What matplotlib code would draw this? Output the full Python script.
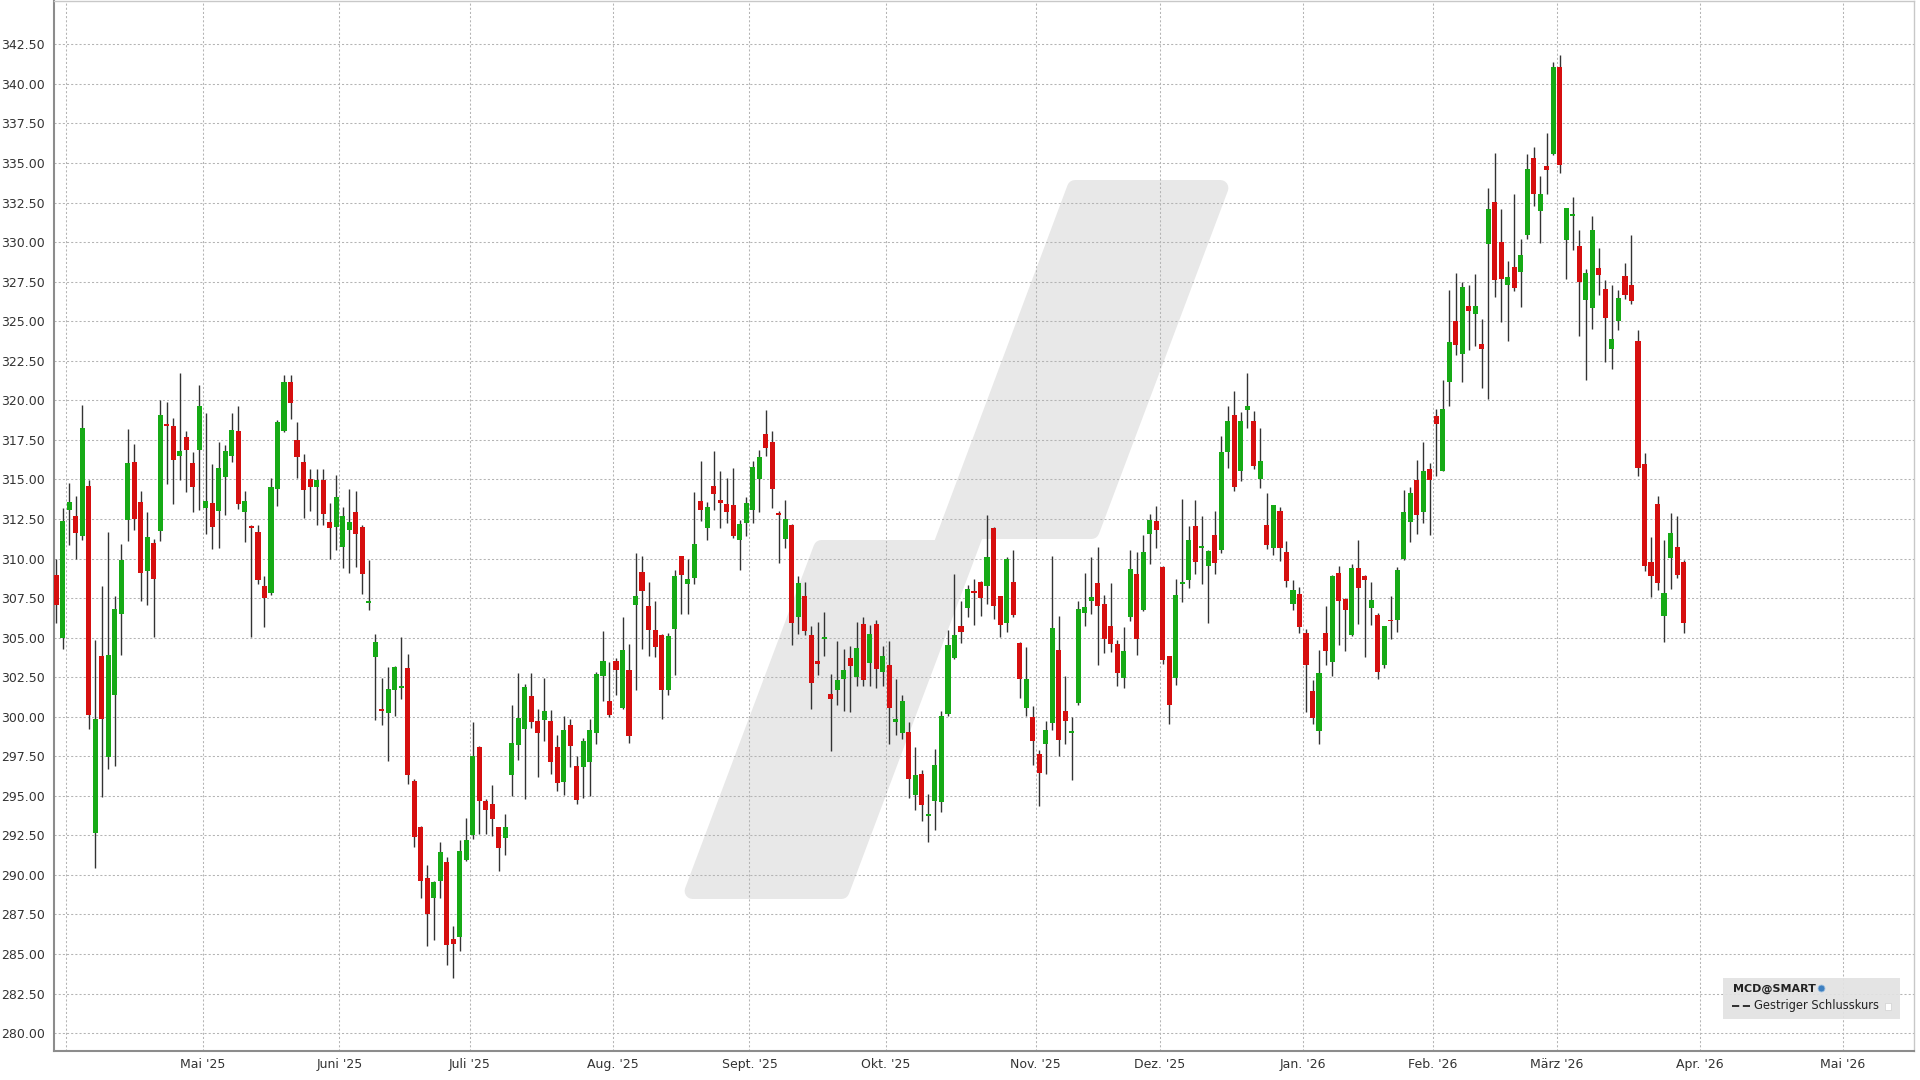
import numpy as np
import pandas as pd
import matplotlib
matplotlib.use("Agg")
import matplotlib.pyplot as plt
from matplotlib.patches import Polygon, Rectangle
from matplotlib.lines import Line2D

OUTPUT_PATH = "out.png"

# --- daily candles MCD, 28.03.2025 - 27.03.2026 ---
FIRST_DAY = "2025-03-28"
HOLIDAYS = ["2025-04-18", "2025-05-26", "2025-06-19", "2025-07-04", "2025-09-01",
            "2025-11-27", "2025-12-25", "2026-01-01", "2026-01-19", "2026-02-16"]

OPEN = [
    308.98, 305.00, 313.04, 312.71, 311.44, 314.56, 292.66, 303.82, 297.44, 301.35,
    306.49, 312.45, 316.12, 313.59, 309.23, 311.00, 311.76, 318.50, 318.39, 316.46,
    317.70, 316.06, 316.83, 313.19, 313.50, 312.98, 315.13, 316.50, 318.04, 312.92,
    312.03, 311.67, 308.24, 307.82, 314.39, 318.08, 321.17, 317.49, 316.12, 315.00,
    314.50, 314.95, 312.31, 312.02, 310.73, 311.82, 312.92, 312.02, 307.20, 303.78,
    300.47, 300.24, 301.71, 301.84, 303.11, 295.96, 293.02, 289.80, 288.51, 289.60,
    290.81, 285.96, 286.10, 290.93, 292.51, 298.10, 294.65, 294.49, 293.02, 292.35,
    296.34, 298.21, 299.23, 301.30, 299.72, 299.77, 299.72, 298.10, 295.86, 299.45,
    296.90, 296.81, 297.11, 298.96, 302.59, 301.01, 303.50, 300.54, 302.97, 307.04,
    309.12, 307.01, 305.50, 305.16, 301.70, 305.54, 310.14, 308.41, 308.76, 313.61,
    311.93, 314.60, 313.72, 313.44, 313.36, 311.15, 312.24, 313.09, 315.05, 317.87,
    317.37, 312.83, 311.23, 312.10, 306.28, 307.61, 305.14, 303.50, 304.89, 301.45,
    301.66, 302.38, 303.71, 302.50, 305.86, 303.39, 305.86, 302.80, 303.24, 299.64,
    298.96, 299.03, 295.06, 296.37, 293.70, 294.70, 294.64, 300.16, 303.71, 305.71,
    306.85, 307.96, 308.49, 308.28, 311.93, 307.61, 305.92, 308.51, 304.65, 300.54,
    299.97, 297.66, 298.27, 299.60, 304.23, 300.33, 299.00, 300.87, 306.56, 307.34,
    308.45, 307.15, 305.71, 304.62, 302.45, 306.28, 309.02, 306.77, 311.57, 312.35,
    309.46, 303.82, 302.45, 308.40, 308.66, 312.03, 310.67, 309.50, 311.46, 310.52,
    316.71, 319.09, 315.55, 319.36, 318.67, 315.02, 312.10, 310.66, 312.98, 310.41,
    307.13, 307.76, 305.29, 301.65, 299.12, 305.29, 303.45, 309.08, 307.44, 305.18,
    309.40, 308.91, 306.87, 306.45, 303.28, 306.13, 306.13, 309.99, 312.31, 314.98,
    312.92, 315.66, 318.99, 315.55, 321.15, 325.02, 322.94, 325.94, 325.47, 323.58,
    329.88, 332.52, 330.00, 327.27, 328.43, 328.11, 330.47, 335.33, 331.99, 334.84,
    335.58, 341.09, 330.16, 331.65, 329.78, 326.32, 325.81, 328.36, 327.03, 323.26,
    324.99, 327.83, 327.26, 323.72, 315.97, 309.77, 313.44, 306.39, 310.02, 310.70,
    309.75,
]
HIGH = [
    309.99, 313.20, 314.75, 313.93, 319.68, 314.98, 304.87, 308.24, 311.67, 307.61,
    310.94, 318.18, 317.21, 314.29, 312.96, 311.25, 320.00, 319.87, 318.86, 321.72,
    318.08, 316.73, 320.98, 319.19, 315.97, 317.34, 317.17, 319.19, 319.61, 314.24,
    312.14, 312.14, 308.92, 315.09, 318.77, 321.62, 321.62, 318.64, 316.60, 315.66,
    315.63, 315.63, 313.53, 315.29, 313.26, 314.41, 314.27, 312.10, 309.88, 305.21,
    302.43, 303.15, 303.20, 305.07, 303.97, 296.07, 293.07, 290.61, 289.60, 292.08,
    291.11, 286.78, 292.19, 293.59, 299.68, 298.15, 294.83, 295.69, 293.05, 293.86,
    300.76, 302.77, 302.05, 302.77, 300.47, 302.43, 300.40, 298.82, 300.06, 299.85,
    297.49, 298.65, 299.85, 302.82, 305.43, 303.43, 303.71, 306.30, 304.59, 310.35,
    310.18, 308.51, 307.29, 305.20, 305.29, 309.25, 310.18, 309.97, 314.20, 316.14,
    313.57, 316.82, 315.51, 315.09, 315.72, 312.45, 313.87, 316.14, 316.88, 319.41,
    318.04, 313.02, 313.72, 312.15, 308.91, 308.51, 305.71, 305.98, 306.59, 302.69,
    304.80, 304.27, 304.44, 305.96, 306.28, 305.77, 306.13, 304.44, 304.76, 302.38,
    301.39, 299.66, 298.06, 296.64, 295.10, 297.95, 300.33, 305.50, 309.04, 307.29,
    308.30, 308.70, 308.55, 312.73, 311.98, 307.65, 310.09, 310.56, 304.70, 304.38,
    300.65, 297.91, 299.70, 310.14, 306.34, 302.55, 300.00, 307.29, 309.08, 310.10,
    310.73, 307.71, 308.45, 304.83, 305.65, 310.52, 310.39, 311.46, 312.83, 313.30,
    309.50, 303.85, 308.70, 313.78, 312.03, 313.72, 312.66, 310.55, 312.98, 317.76,
    319.61, 320.56, 319.24, 321.72, 319.34, 318.25, 314.14, 313.40, 313.23, 311.13,
    308.66, 308.18, 305.55, 302.34, 304.24, 306.98, 308.98, 309.54, 307.50, 309.67,
    311.19, 308.95, 308.51, 306.55, 305.75, 307.61, 309.46, 314.35, 314.52, 316.25,
    317.37, 316.04, 319.45, 321.30, 326.95, 328.05, 327.48, 327.27, 327.99, 325.16,
    333.43, 335.64, 332.10, 328.83, 333.01, 330.22, 335.58, 336.00, 334.17, 336.91,
    341.38, 341.80, 332.16, 332.86, 330.79, 328.32, 331.67, 329.62, 327.62, 327.26,
    326.95, 328.68, 330.43, 324.46, 316.70, 311.39, 313.98, 311.18, 312.86, 312.66,
    309.92,
]
LOW = [
    305.92, 304.30, 310.87, 310.00, 311.19, 299.23, 290.44, 294.93, 296.70, 296.87,
    303.88, 311.08, 311.78, 307.29, 307.08, 305.02, 311.13, 314.71, 313.46, 314.98,
    314.20, 312.94, 313.04, 311.57, 310.60, 310.66, 312.77, 316.08, 313.13, 311.06,
    305.02, 308.39, 305.65, 307.70, 313.34, 317.99, 318.81, 315.10, 312.56, 312.98,
    312.09, 312.09, 309.99, 310.51, 309.38, 309.09, 309.45, 307.73, 306.74, 299.79,
    299.45, 297.20, 300.02, 301.10, 295.73, 291.78, 288.51, 285.51, 285.87, 288.56,
    284.30, 283.48, 285.20, 290.90, 292.30, 292.57, 292.57, 292.46, 290.25, 291.29,
    294.99, 297.27, 294.78, 299.27, 296.18, 298.44, 296.41, 295.28, 295.06, 296.85,
    294.50, 294.85, 294.96, 298.27, 301.01, 299.97, 301.35, 300.50, 298.33, 301.70,
    304.27, 303.81, 303.75, 299.85, 301.39, 302.65, 306.49, 306.49, 308.41, 312.35,
    311.15, 313.09, 311.93, 312.25, 311.30, 309.29, 311.40, 312.24, 312.94, 316.46,
    313.19, 309.71, 310.66, 304.55, 305.25, 305.18, 300.48, 302.65, 303.85, 297.85,
    300.75, 300.38, 300.27, 301.96, 301.91, 301.96, 301.81, 301.96, 298.27, 298.86,
    298.60, 294.85, 294.11, 293.38, 292.05, 292.85, 293.95, 300.02, 303.64, 304.65,
    306.28, 305.81, 306.34, 307.14, 306.17, 305.01, 305.35, 306.28, 301.18, 300.06,
    296.96, 294.37, 296.37, 299.17, 297.49, 298.27, 296.03, 300.76, 305.71, 306.51,
    303.29, 304.03, 304.07, 301.97, 301.82, 306.07, 303.92, 306.70, 309.65, 310.66,
    303.33, 299.54, 302.03, 307.25, 308.11, 309.02, 308.39, 305.92, 309.02, 310.35,
    315.72, 314.24, 314.92, 318.25, 315.66, 314.45, 310.60, 310.24, 309.82, 308.20,
    306.72, 305.29, 300.28, 299.56, 298.28, 303.29, 302.55, 304.55, 304.13, 305.12,
    305.86, 303.75, 305.77, 302.38, 303.07, 304.91, 305.33, 309.92, 311.02, 311.55,
    312.24, 311.50, 315.19, 315.50, 319.65, 322.88, 321.15, 323.15, 323.45, 320.77,
    320.10, 326.51, 324.93, 323.77, 326.89, 325.90, 330.20, 332.27, 329.95, 333.07,
    335.50, 334.38, 327.67, 329.53, 324.04, 321.30, 324.50, 326.63, 322.39, 321.97,
    324.46, 326.40, 326.08, 315.19, 309.24, 307.55, 307.98, 304.75, 308.06, 308.76,
    305.28,
]
CLOSE = [
    307.08, 312.35, 313.57, 311.61, 318.25, 300.13, 299.88, 299.86, 303.92, 306.81,
    309.91, 316.06, 312.52, 309.08, 311.34, 308.72, 319.07, 318.40, 316.22, 316.77,
    316.83, 314.50, 319.61, 313.65, 311.97, 315.72, 316.81, 318.10, 313.46, 313.65,
    311.91, 308.66, 307.50, 314.50, 318.60, 321.17, 319.80, 316.43, 314.31, 314.50,
    314.95, 312.83, 311.91, 313.89, 312.70, 312.31, 311.52, 309.00, 307.30, 304.71,
    300.38, 301.75, 303.15, 301.93, 296.34, 292.42, 289.64, 287.50, 289.53, 291.45,
    285.58, 285.65, 291.49, 292.19, 297.49, 294.65, 294.11, 293.54, 291.72, 293.02,
    298.37, 299.90, 301.87, 299.68, 298.96, 300.36, 297.13, 295.84, 299.17, 298.12,
    294.75, 298.44, 299.17, 302.69, 303.54, 300.12, 302.93, 304.19, 298.79, 307.61,
    307.92, 305.46, 304.38, 301.70, 305.08, 308.91, 308.98, 308.70, 310.91, 313.09,
    313.23, 314.10, 313.51, 312.94, 311.44, 312.18, 313.51, 315.78, 316.40, 316.99,
    314.39, 312.75, 312.50, 305.92, 308.45, 305.39, 302.12, 303.35, 304.97, 301.11,
    302.34, 302.97, 303.18, 304.34, 302.29, 305.22, 303.01, 303.85, 300.54, 299.87,
    300.97, 296.07, 296.29, 294.43, 293.80, 296.96, 300.06, 304.51, 305.18, 305.35,
    308.07, 307.82, 307.50, 310.07, 306.97, 305.81, 309.99, 306.40, 302.38, 302.38,
    298.48, 296.43, 299.17, 305.60, 298.50, 299.70, 299.10, 306.81, 306.94, 307.55,
    307.02, 304.91, 304.62, 302.77, 304.13, 309.34, 304.91, 310.41, 312.41, 311.82,
    303.61, 300.72, 307.69, 308.50, 311.19, 309.78, 310.77, 310.50, 309.72, 316.73,
    318.71, 314.50, 318.67, 319.61, 315.87, 316.18, 310.87, 313.36, 310.66, 308.56,
    308.03, 305.65, 303.29, 299.92, 302.77, 304.18, 308.87, 307.33, 306.76, 309.40,
    308.13, 308.62, 307.39, 302.82, 305.71, 306.02, 309.25, 312.94, 314.14, 312.77,
    315.51, 314.98, 318.52, 319.47, 323.66, 323.51, 327.16, 325.62, 325.94, 323.24,
    332.10, 327.63, 327.69, 327.80, 327.10, 329.21, 334.59, 333.07, 333.01, 334.55,
    341.09, 334.86, 332.16, 331.75, 327.46, 328.05, 330.78, 327.94, 325.20, 323.87,
    326.46, 326.63, 326.29, 315.71, 309.54, 308.90, 308.48, 307.81, 311.64, 308.97,
    305.95,
]

MONTH_NAMES = {1: "Jan.", 2: "Feb.", 3: "März", 4: "Apr.", 5: "Mai", 6: "Juni",
               7: "Juli", 8: "Aug.", 9: "Sept.", 10: "Okt.", 11: "Nov.", 12: "Dez."}

GREEN = "#16aa16"
RED = "#d60f0f"
WICK = "#333333"
TEXT = "#333333"
GRID = "#b4b4b4"
W, H = 1920, 1080
XMIN, XMAX = -0.41, 285.4


def fx(px):
    return px / W


def fy(py):
    return 1 - py / H


def main():
    o = np.array(OPEN)
    h = np.array(HIGH)
    l = np.array(LOW)
    c = np.array(CLOSE)
    n = len(o)

    # trading days (future part only weekdays)
    days = pd.bdate_range(FIRST_DAY, "2026-05-31")
    days = days[~days.isin(pd.to_datetime(HOLIDAYS))]
    x = np.arange(n)

    # month gridlines at first trading day of each month
    df = pd.DataFrame({"d": days, "i": np.arange(len(days))})
    firsts = df.groupby([df.d.dt.year, df.d.dt.month]).i.min().tolist()[1:]
    month_pos = [i - 0.5 for i in firsts if XMIN < i - 0.5 < XMAX]
    month_days = [days[i] for i in firsts if XMIN < i - 0.5 < XMAX]
    month_lab = [f"{MONTH_NAMES[d.month]} '{d.strftime('%y')}" for d in month_days]
    month_lab[0] = ""  # April '25 gridline has no label

    fig = plt.figure(figsize=(W / 100, H / 100), dpi=100)
    fig.patch.set_facecolor("white")
    ax = fig.add_axes([fx(53.5), fy(1051), fx(1914) - fx(53.5), fy(1) - fy(1051)])

    # --- watermark ---
    wm = [(821.4, 548), (940.3, 548), (1075.0, 188), (1220.4, 188),
          (1091.5, 531), (976.5, 531), (841.5, 891), (692.6, 891)]
    ax.add_patch(Polygon([(fx(a), fy(b)) for a, b in wm], closed=True,
                         transform=fig.transFigure, facecolor="#e8e8e8",
                         edgecolor="#e8e8e8", linewidth=11.5, joinstyle="round",
                         zorder=0.2))

    # --- candles ---
    up = c >= o
    colors = np.where(up, GREEN, RED)
    body_low = np.minimum(o, c)
    body_h = np.maximum(np.abs(c - o), 0.12)
    ax.vlines(x, l, h, color=WICK, linewidth=1.0, zorder=2)
    ax.bar(x, body_h, bottom=body_low, width=0.78, color=colors,
           linewidth=0, zorder=3)

    # --- axes ---
    yt = np.arange(280, 342.51, 2.5)
    ax.set_yticks(yt)
    ax.set_yticklabels([f"{v:.2f}" for v in yt])
    ax.set_xticks(month_pos)
    ax.set_xticklabels(month_lab)
    ax.set_xlim(XMIN, XMAX)
    ax.set_ylim(278.87, 345.24)
    ax.tick_params(axis="both", length=0, labelsize=9, colors=TEXT)
    ax.tick_params(axis="y", pad=6)
    ax.tick_params(axis="x", pad=5)
    ax.set_axisbelow(True)
    ax.grid(True, color=GRID, linewidth=0.75, linestyle=(0, (2, 2)))
    for side in ["left", "bottom"]:
        ax.spines[side].set_color("#8c8c8c")
        ax.spines[side].set_linewidth(1.5)
    for side in ["top", "right"]:
        ax.spines[side].set_color("#c8c8c8")
        ax.spines[side].set_linewidth(1.0)

    # --- legend box ---
    fig.patches.append(Rectangle((fx(1723), fy(1019)), fx(1900) - fx(1723),
                                 fy(978) - fy(1019), transform=fig.transFigure,
                                 facecolor="#e2e2e2", edgecolor="none", alpha=0.92))
    fig.text(fx(1733), fy(989), "MCD@SMART", fontsize=8, fontweight="bold",
             color="#222222", va="center", ha="left")
    fig.lines.append(Line2D([fx(1821)], [fy(988)], transform=fig.transFigure,
                            marker="o", markersize=5, markerfacecolor="#3d7fc0",
                            markeredgecolor="#9fbfdf", markeredgewidth=0.6))
    fig.lines.append(Line2D([fx(1732), fx(1750)], [fy(1006), fy(1006)],
                            transform=fig.transFigure, color="#222222",
                            linewidth=1.3, linestyle=(0, (4, 2))))
    fig.text(fx(1754), fy(1006), "Gestriger Schlusskurs", fontsize=8.3,
             color="#222222", va="center", ha="left")
    fig.patches.append(Rectangle((fx(1885), fy(1010)), 6 / W, 7 / H,
                                 transform=fig.transFigure, facecolor="white",
                                 edgecolor="#d0d0d0", linewidth=0.5))

    fig.savefig(OUTPUT_PATH, dpi=100)
    plt.close(fig)


if __name__ == "__main__":
    main()
